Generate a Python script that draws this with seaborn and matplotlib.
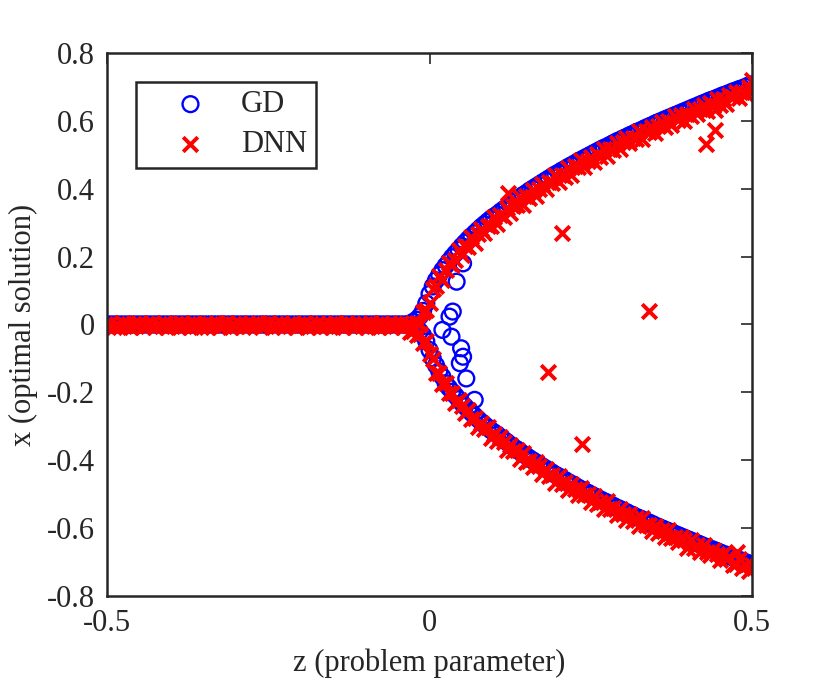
import numpy as np
import pandas as pd
import matplotlib
matplotlib.use('Agg')
import matplotlib.pyplot as plt
import seaborn as sns

# problem parameter grid, flat part (z < 0)
z_flat = [-0.500, -0.495, -0.490, -0.485, -0.480, -0.475, -0.470, -0.465, -0.460, -0.455,
          -0.450, -0.445, -0.440, -0.435, -0.430, -0.425, -0.420, -0.415, -0.410, -0.405,
          -0.400, -0.395, -0.390, -0.385, -0.380, -0.375, -0.370, -0.365, -0.360, -0.355,
          -0.350, -0.345, -0.340, -0.335, -0.330, -0.325, -0.320, -0.315, -0.310, -0.305,
          -0.300, -0.295, -0.290, -0.285, -0.280, -0.275, -0.270, -0.265, -0.260, -0.255,
          -0.250, -0.245, -0.240, -0.235, -0.230, -0.225, -0.220, -0.215, -0.210, -0.205,
          -0.200, -0.195, -0.190, -0.185, -0.180, -0.175, -0.170, -0.165, -0.160, -0.155,
          -0.150, -0.145, -0.140, -0.135, -0.130, -0.125, -0.120, -0.115, -0.110, -0.105,
          -0.100, -0.095, -0.090, -0.085, -0.080, -0.075, -0.070, -0.065, -0.060, -0.055,
          -0.050, -0.045, -0.040, -0.035]
gd_flat = [0.0] * len(z_flat)
dnn_flat = [-0.004, 0.003, -0.007, 0.001, -0.006, 0.004, -0.002, -0.008, 0.002, -0.005,
            0.004, -0.007, 0.000, -0.003, 0.003, -0.008, 0.001, -0.004, 0.004, -0.006,
            -0.001, 0.002, -0.008, 0.003, -0.005, 0.000, -0.007, 0.004, -0.002, -0.006,
            0.002, -0.008, 0.001, -0.003, 0.004, -0.006, -0.001, 0.003, -0.007, 0.000,
            -0.004, 0.004, -0.008, 0.002, -0.005, 0.001, -0.003, 0.003, -0.006, -0.002,
            0.003, -0.007, 0.001, -0.004, 0.004, -0.008, 0.000, -0.003, 0.002, -0.006,
            -0.002, 0.004, -0.007, 0.001, -0.005, 0.003, -0.008, 0.000, -0.004, 0.002,
            -0.006, 0.003, -0.001, -0.007, 0.004, -0.003, 0.001, -0.008, 0.002, -0.005,
            0.000, -0.006, 0.003, -0.002, -0.008, 0.004, -0.004, 0.001, -0.007, 0.002,
            -0.003, 0.003, -0.006, 0.000]

# grid for the two branches
z_branch = [-0.030, -0.025, -0.020, -0.015, -0.010, -0.005, 0.000, 0.005, 0.010, 0.015,
            0.020, 0.025, 0.030, 0.035, 0.040, 0.045, 0.050, 0.055, 0.060, 0.065,
            0.070, 0.075, 0.080, 0.085, 0.090, 0.095, 0.100, 0.105, 0.110, 0.115,
            0.120, 0.125, 0.130, 0.135, 0.140, 0.145, 0.150, 0.155, 0.160, 0.165,
            0.170, 0.175, 0.180, 0.185, 0.190, 0.195, 0.200, 0.205, 0.210, 0.215,
            0.220, 0.225, 0.230, 0.235, 0.240, 0.245, 0.250, 0.255, 0.260, 0.265,
            0.270, 0.275, 0.280, 0.285, 0.290, 0.295, 0.300, 0.305, 0.310, 0.315,
            0.320, 0.325, 0.330, 0.335, 0.340, 0.345, 0.350, 0.355, 0.360, 0.365,
            0.370, 0.375, 0.380, 0.385, 0.390, 0.395, 0.400, 0.405, 0.410, 0.415,
            0.420, 0.425, 0.430, 0.435, 0.440, 0.445, 0.450, 0.455, 0.460, 0.465,
            0.470, 0.475, 0.480, 0.485, 0.490, 0.495, 0.500]
gd_upper = [0.003, 0.008, 0.014, 0.024, 0.040, 0.062, 0.090, 0.112, 0.130, 0.146,
            0.160, 0.173, 0.186, 0.198, 0.209, 0.220, 0.231, 0.241, 0.251, 0.260,
            0.269, 0.278, 0.287, 0.295, 0.303, 0.311, 0.318, 0.324, 0.332, 0.339,
            0.346, 0.354, 0.361, 0.367, 0.374, 0.381, 0.387, 0.394, 0.400, 0.406,
            0.412, 0.418, 0.424, 0.430, 0.436, 0.442, 0.447, 0.453, 0.458, 0.464,
            0.469, 0.474, 0.480, 0.485, 0.490, 0.495, 0.500, 0.505, 0.510, 0.515,
            0.520, 0.524, 0.529, 0.534, 0.539, 0.543, 0.548, 0.552, 0.557, 0.561,
            0.566, 0.570, 0.574, 0.579, 0.583, 0.587, 0.592, 0.596, 0.600, 0.604,
            0.608, 0.612, 0.616, 0.620, 0.624, 0.628, 0.632, 0.636, 0.640, 0.644,
            0.648, 0.652, 0.656, 0.660, 0.663, 0.667, 0.671, 0.675, 0.678, 0.682,
            0.686, 0.689, 0.693, 0.696, 0.700, 0.704, 0.707]
gd_lower = [-0.003, -0.008, -0.013, -0.020, -0.032, -0.050, -0.075, -0.100, -0.120, -0.138,
            -0.154, -0.173, -0.186, -0.198, -0.209, -0.220, -0.231, -0.241, -0.251, -0.260,
            -0.269, -0.278, -0.287, -0.295, -0.303, -0.311, -0.318, -0.324, -0.332, -0.339,
            -0.346, -0.354, -0.361, -0.367, -0.374, -0.381, -0.387, -0.394, -0.400, -0.406,
            -0.412, -0.418, -0.424, -0.430, -0.436, -0.442, -0.447, -0.453, -0.458, -0.464,
            -0.469, -0.474, -0.480, -0.485, -0.490, -0.495, -0.500, -0.505, -0.510, -0.515,
            -0.520, -0.524, -0.529, -0.534, -0.539, -0.543, -0.548, -0.552, -0.557, -0.561,
            -0.566, -0.570, -0.574, -0.579, -0.583, -0.587, -0.592, -0.596, -0.600, -0.604,
            -0.608, -0.612, -0.616, -0.620, -0.624, -0.628, -0.632, -0.636, -0.640, -0.644,
            -0.648, -0.652, -0.656, -0.660, -0.663, -0.667, -0.671, -0.675, -0.678, -0.682,
            -0.686, -0.689, -0.693, -0.696, -0.700, -0.704, -0.707]
dnn_upper = [-0.003, -0.018, 0.003, 0.000, 0.038, 0.042, 0.063, 0.104, 0.113, 0.142,
             0.132, 0.160, 0.181, 0.174, 0.191, 0.219, 0.205, 0.231, 0.229, 0.257,
             0.240, 0.266, 0.280, 0.270, 0.289, 0.291, 0.316, 0.297, 0.323, 0.316,
             0.342, 0.328, 0.350, 0.351, 0.374, 0.353, 0.379, 0.373, 0.395, 0.377,
             0.399, 0.415, 0.399, 0.420, 0.417, 0.441, 0.421, 0.441, 0.435, 0.460,
             0.441, 0.466, 0.463, 0.483, 0.465, 0.481, 0.494, 0.478, 0.501, 0.493,
             0.517, 0.495, 0.518, 0.514, 0.534, 0.517, 0.538, 0.548, 0.533, 0.548,
             0.545, 0.569, 0.547, 0.571, 0.567, 0.581, 0.564, 0.584, 0.597, 0.581,
             0.599, 0.586, 0.614, 0.602, 0.617, 0.599, 0.621, 0.614, 0.636, 0.619,
             0.634, 0.647, 0.629, 0.652, 0.644, 0.665, 0.647, 0.665, 0.650, 0.676,
             0.669, 0.686, 0.667, 0.684, 0.679, 0.700, 0.684]
dnn_lower = [-0.022, -0.008, -0.030, -0.028, -0.054, -0.049, -0.088, -0.102, -0.144, -0.144,
             -0.174, -0.171, -0.201, -0.202, -0.232, -0.221, -0.241, -0.262, -0.251, -0.278,
             -0.276, -0.303, -0.290, -0.309, -0.301, -0.333, -0.323, -0.343, -0.331, -0.347,
             -0.370, -0.356, -0.373, -0.371, -0.397, -0.378, -0.404, -0.403, -0.420, -0.406,
             -0.418, -0.440, -0.425, -0.446, -0.443, -0.467, -0.446, -0.471, -0.463, -0.487,
             -0.471, -0.484, -0.501, -0.483, -0.503, -0.499, -0.524, -0.505, -0.529, -0.523,
             -0.542, -0.521, -0.544, -0.540, -0.560, -0.542, -0.557, -0.577, -0.558, -0.578,
             -0.570, -0.594, -0.570, -0.591, -0.590, -0.609, -0.592, -0.615, -0.605, -0.627,
             -0.606, -0.628, -0.626, -0.641, -0.627, -0.636, -0.657, -0.635, -0.658, -0.650,
             -0.670, -0.649, -0.670, -0.680, -0.664, -0.676, -0.695, -0.675, -0.691, -0.686,
             -0.709, -0.705, -0.691, -0.716, -0.707, -0.726, -0.709]

# points that did not land on a branch
gd_out_z = [0.052, 0.042, 0.036, 0.031, 0.020, 0.034, 0.049, 0.052, 0.047, 0.057, 0.070]
gd_out_x = [0.180, 0.126, 0.038, 0.023, -0.016, -0.036, -0.070, -0.095, -0.114, -0.159, -0.222]
dnn_out_z = [0.206, 0.340, 0.184, 0.237, 0.428, 0.442, 0.442, 0.477, 0.122, 0.500]
dnn_out_x = [0.270, 0.039, -0.140, -0.351, 0.531, 0.573, 0.632, -0.670, 0.388, 0.720]

gd = pd.DataFrame({
    'z': z_flat + z_branch + z_branch + gd_out_z,
    'x': gd_flat + gd_upper + gd_lower + gd_out_x,
})
dnn = pd.DataFrame({
    'z': z_flat + z_branch + z_branch + dnn_out_z,
    'x': dnn_flat + dnn_upper + dnn_lower + dnn_out_x,
})

sns.set_style('white')
plt.rcParams['font.family'] = ['Liberation Serif', 'DejaVu Serif']
plt.rcParams['axes.unicode_minus'] = False

fig = plt.figure(figsize=(8.3, 6.86), dpi=100)
ax = fig.add_axes([0.129, 0.131, 0.777, 0.792])

sns.scatterplot(data=gd, x='z', y='x', ax=ax, marker='o', s=130,
                facecolors='none', edgecolor='#0000ff', linewidth=1.7, label='GD')
sns.scatterplot(data=dnn, x='z', y='x', ax=ax, marker='x', s=110,
                color='#ff0000', linewidth=2.8, label='DNN')

ax.set_xlim(-0.5, 0.5)
ax.set_ylim(-0.8, 0.8)
ax.set_xticks([-0.5, 0, 0.5])
ax.set_xticklabels(['-0.5', '0', '0.5'])
ax.set_yticks([-0.8, -0.6, -0.4, -0.2, 0, 0.2, 0.4, 0.6, 0.8])
ax.set_yticklabels(['-0.8', '-0.6', '-0.4', '-0.2', '0', '0.2', '0.4', '0.6', '0.8'])
ax.tick_params(direction='in', length=8, width=1.2, colors='#262626',
               labelsize=22, top=True, right=True, pad=9)
for sp in ax.spines.values():
    sp.set_linewidth(1.8)
    sp.set_color('#262626')
    sp.set_visible(True)

ax.set_xlabel('z (problem parameter)', fontsize=22, color='#262626', labelpad=8)
ax.set_ylabel('x (optimal solution)', fontsize=22, color='#262626', labelpad=6)

leg = ax.legend(loc='upper left', bbox_to_anchor=(0.045, 0.947), borderaxespad=0,
                fontsize=22, frameon=True, fancybox=False, handletextpad=0.15,
                handlelength=3.0, borderpad=0.28, labelspacing=0.36)
leg.get_frame().set_edgecolor('#262626')
leg.get_frame().set_linewidth(1.8)
leg.get_frame().set_alpha(1)

fig.savefig('out.png', dpi=100)
